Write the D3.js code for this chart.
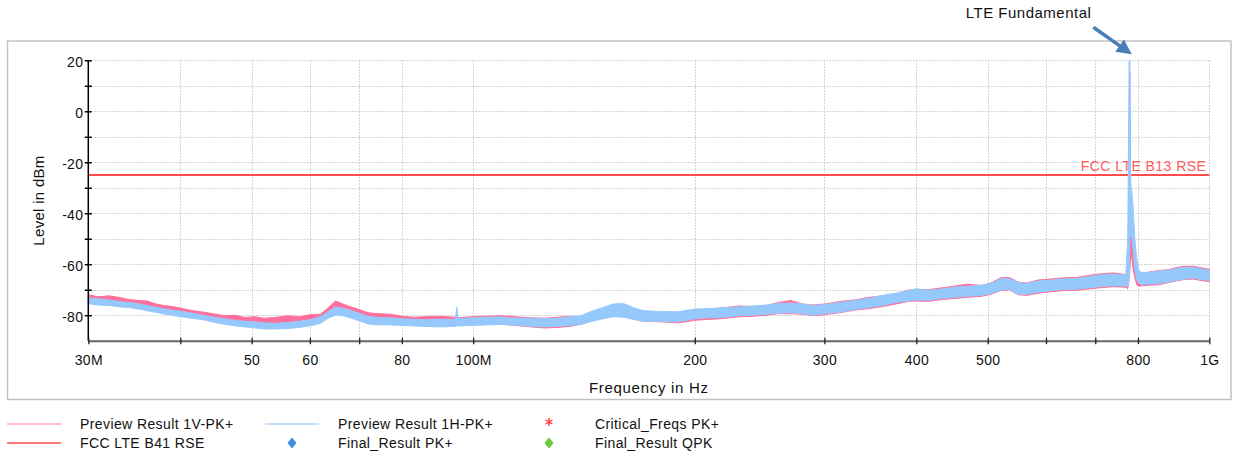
<!DOCTYPE html>
<html>
<head>
<meta charset="utf-8">
<script src="https://cdn.jsdelivr.net/npm/d3@7"></script>
<style>
  html, body { margin: 0; padding: 0; background: #fff; }
  svg { display: block; font-family: Arial, "Liberation Sans", sans-serif; }
</style>
</head>
<body>
<svg id="chart" width="1233" height="454"></svg>
<script>
// ---------------- data ----------------
const freqMHz = [
  30, 31, 32, 33, 34, 35, 36, 37, 38, 39,
  40, 41.5, 43, 44.5, 46, 47.5, 49, 50.5, 52, 54,
  56, 58, 60, 62, 63.5, 65, 66.5, 68, 70, 72,
  74, 77, 80, 83, 86, 90, 94.6, 95, 95.4, 100,
  104, 108, 112, 116, 120, 125, 130, 135, 140, 145,
  150, 155, 160, 165, 170, 180, 190, 200, 210, 220,
  230, 240, 250, 260, 270, 280, 290, 300, 315, 330,
  345, 360, 375, 390, 400, 415, 430, 450, 470, 490,
  505, 520, 535, 550, 565, 585, 600, 630, 660, 700,
  740, 770, 775, 778, 780, 782, 785, 788, 792, 797,
  802, 810, 830, 856, 880, 900, 925, 950, 975, 1000
];
// Preview Result 1V-PK+ (pink) lower / upper envelope, dBm
const pinkLo = [
  -74.5, -75.0, -75.5, -76.0, -76.0, -76.5, -77.5, -78.0, -78.6, -79.0,
  -79.6, -80.3, -81.0, -81.8, -82.4, -83.0, -83.4, -83.6, -83.8, -83.6,
  -83.8, -83.2, -82.8, -82.0, -80.2, -78.5, -78.8, -79.6, -80.6, -81.4,
  -81.8, -82.2, -83.0, -83.4, -84.0, -84.2, -84.0, -83.8, -83.8, -83.8,
  -83.6, -83.4, -83.8, -84.2, -84.6, -85.0, -84.8, -84.4, -83.6, -82.2,
  -81.0, -80.2, -80.2, -81.4, -82.4, -82.6, -83.0, -82.0, -81.6, -81.2,
  -80.6, -80.4, -80.0, -79.4, -79.4, -79.6, -80.2, -79.8, -79.0, -78.0,
  -77.4, -76.6, -75.6, -74.6, -74.4, -74.6, -74.0, -73.4, -73.0, -72.6,
  -71.8, -70.4, -70.0, -72.0, -72.2, -71.4, -71.0, -70.4, -70.2, -69.4,
  -68.8, -69.0, -69.6, -66.0, -62.0, -56.0, -58.0, -62.0, -65.0, -68.0,
  -68.6, -68.4, -68.2, -68.0, -67.2, -66.6, -66.0, -65.8, -66.4, -66.8
];
const pinkHi = [
  -72.0, -72.8, -72.4, -73.0, -73.8, -74.2, -74.4, -75.5, -76.2, -76.6,
  -77.2, -78.2, -78.8, -79.5, -80.2, -80.0, -80.9, -80.6, -81.2, -80.8,
  -80.2, -80.6, -79.8, -79.6, -77.2, -74.4, -75.6, -76.6, -77.8, -79.0,
  -79.4, -79.6, -80.4, -80.8, -80.6, -80.4, -80.8, -80.6, -81.0, -80.6,
  -80.4, -80.2, -80.4, -80.8, -81.0, -81.2, -80.8, -80.4, -80.6, -79.4,
  -78.6, -78.4, -78.6, -79.6, -79.6, -79.2, -79.0, -78.0, -77.6, -77.0,
  -76.4, -76.6, -76.2, -75.0, -74.2, -75.6, -76.0, -75.6, -74.6, -74.0,
  -73.0, -72.4, -71.6, -70.2, -70.0, -70.0, -69.4, -68.6, -67.8, -68.4,
  -67.4, -65.4, -65.2, -67.0, -67.4, -66.2, -66.0, -65.4, -65.2, -64.0,
  -63.4, -64.0, -63.0, -20.0, 15.0, -48.0, -50.0, -52.0, -57.0, -62.0,
  -65.0, -63.6, -63.0, -62.4, -62.2, -61.4, -60.8, -60.8, -61.4, -62.0
];
// Preview Result 1H-PK+ (light blue) lower / upper envelope, dBm
const blueLo = [
  -75.5, -76.0, -76.2, -76.7, -77.0, -77.5, -78.2, -78.8, -79.5, -80.0,
  -80.6, -81.2, -81.8, -82.8, -83.6, -84.2, -84.6, -85.0, -85.4, -85.4,
  -85.2, -84.8, -84.2, -83.2, -81.2, -80.0, -80.2, -81.0, -82.2, -83.4,
  -83.8, -83.8, -84.0, -84.2, -84.4, -84.6, -84.4, -84.2, -84.2, -84.0,
  -83.8, -83.6, -83.8, -84.0, -84.4, -84.6, -84.4, -84.0, -83.6, -82.4,
  -81.4, -80.6, -80.8, -81.6, -82.4, -82.4, -82.6, -81.4, -81.0, -80.8,
  -80.2, -80.0, -79.6, -79.2, -79.0, -79.4, -80.0, -79.4, -78.8, -77.8,
  -77.0, -76.2, -75.0, -74.4, -74.0, -74.2, -73.6, -73.0, -72.6, -72.2,
  -71.6, -70.2, -69.8, -71.8, -71.8, -71.0, -70.6, -70.0, -69.8, -69.0,
  -68.4, -68.6, -68.6, -66.0, -50.0, -48.0, -50.0, -55.0, -62.0, -66.0,
  -67.4, -68.0, -67.8, -67.6, -67.0, -66.4, -65.8, -65.4, -66.0, -66.4
];
const blueHi = [
  -73.2, -73.6, -74.0, -74.6, -75.0, -75.4, -76.2, -76.8, -77.5, -78.0,
  -78.4, -79.2, -80.0, -80.8, -81.4, -82.0, -82.4, -82.6, -83.0, -83.2,
  -82.8, -82.4, -81.8, -80.6, -78.6, -76.8, -77.2, -78.0, -79.2, -80.4,
  -80.8, -81.0, -81.4, -81.6, -81.8, -81.6, -81.6, -76.9, -81.4, -81.0,
  -80.8, -80.6, -81.0, -81.2, -81.2, -81.4, -81.2, -80.6, -80.2, -78.4,
  -77.0, -75.6, -75.4, -77.0, -78.2, -78.6, -78.6, -77.6, -77.4, -77.0,
  -76.8, -76.4, -76.0, -75.4, -75.2, -75.6, -76.2, -75.8, -75.0, -74.2,
  -73.4, -72.2, -71.4, -70.4, -69.6, -70.2, -69.8, -69.0, -68.6, -68.2,
  -67.6, -65.8, -65.6, -67.2, -67.6, -66.6, -66.4, -65.8, -65.6, -64.4,
  -63.8, -64.2, -50.0, 19.8, 20.0, -28.0, -32.0, -38.0, -50.0, -58.0,
  -62.6, -63.2, -63.2, -62.6, -62.4, -61.8, -61.2, -61.2, -61.8, -62.4
];
const limitLevel = -25;          // FCC LTE B13 RSE limit, dBm
const limitLabel = "FCC LTE B13 RSE";
const peakFreqMHz = 780;         // LTE fundamental
const peakLabel = "LTE Fundamental";

const yDomain = [-90, 20];
const yTickValues = [-80, -70, -60, -50, -40, -30, -20, -10, 0, 10, 20];
const yLabelValues = [-80, -60, -40, -20, 0, 20];
const xTickMHz = [30, 40, 50, 60, 70, 80, 100, 200, 300, 400, 500, 600, 700, 800, 1000];
const xTickLabels = {30: "30M", 50: "50", 60: "60", 80: "80", 100: "100M", 200: "200",
                     300: "300", 400: "400", 500: "500", 800: "800", 1000: "1G"};
const yTitle = "Level in dBm";
const xTitle = "Frequency in Hz";

const legendNames = ["Preview Result 1V-PK+", "Preview Result 1H-PK+", "Critical_Freqs PK+",
                     "FCC LTE B41 RSE", "Final_Result PK+", "Final_Result QPK"];
const legendKinds = ["line", "line", "asterisk", "line", "diamond", "diamond"];
const legendColors = ["#ffa3bd", "#a9d3fb", "#ff3b3b", "#ff4d4d", "#3e8fdc", "#6cc93a"];

// ---------------- drawing ----------------
const svg = d3.select("#chart");
const plot = {left: 88.3, right: 1209.3, top: 60.3, bottom: 340.7};

// outer frame
svg.append("rect").attr("x", 7.5).attr("y", 41).attr("width", 1223.5).attr("height", 358.5)
  .attr("fill", "none").attr("stroke", "#c3c3c3").attr("stroke-width", 1.5);

const x = d3.scaleLog().domain([30e6, 1e9]).range([plot.left, plot.right]);
const y = d3.scaleLinear().domain(yDomain).range([plot.bottom, plot.top]);

// grid
const grid = svg.append("g").attr("stroke", "#c8c8c8").attr("stroke-width", 1)
  .attr("stroke-dasharray", "1.5,1.5");
grid.selectAll("line.h").data(yTickValues).join("line").attr("class", "h")
  .attr("x1", plot.left).attr("x2", plot.right)
  .attr("y1", d => Math.round(y(d)) + 0.5).attr("y2", d => Math.round(y(d)) + 0.5);
grid.selectAll("line.v").data(xTickMHz.filter(d => d > 30)).join("line").attr("class", "v")
  .attr("x1", d => Math.round(x(d * 1e6)) + 0.5).attr("x2", d => Math.round(x(d * 1e6)) + 0.5)
  .attr("y1", plot.top).attr("y2", plot.bottom);

// limit line
svg.append("line").attr("x1", plot.left).attr("x2", plot.right)
  .attr("y1", y(limitLevel)).attr("y2", y(limitLevel))
  .attr("stroke", "#ff4d4d").attr("stroke-width", 2);
svg.append("text").attr("x", plot.right - 3).attr("y", y(limitLevel) - 4)
  .attr("text-anchor", "end").attr("font-size", 14).attr("fill", "#ff5a5a")
  .attr("letter-spacing", "0.45").text(limitLabel);

// traces as envelopes
const idx = d3.range(freqMHz.length);
function band(lo, hi) {
  return d3.area().x(i => x(freqMHz[i] * 1e6)).y0(i => y(lo[i])).y1(i => y(hi[i]))(idx);
}
svg.append("path").attr("d", band(pinkLo, pinkHi))
  .attr("fill", "#ff6f9c").attr("stroke", "#ff6f9c").attr("stroke-width", 1);
svg.append("path").attr("d", band(blueLo, blueHi))
  .attr("fill", "#96c9fb").attr("stroke", "#96c9fb").attr("stroke-width", 1);

// axes
const yAxis = d3.axisLeft(y).tickValues(yTickValues).tickSizeInner(3).tickSizeOuter(0).tickPadding(2)
  .tickFormat(d => yLabelValues.includes(d) ? d : "");
const gy = svg.append("g").attr("transform", `translate(${plot.left},0)`).call(yAxis);
gy.select(".domain").attr("stroke", "#000").attr("stroke-width", 1.5)
  .attr("d", `M0,${plot.top}V${plot.bottom}`);
gy.selectAll(".tick line").attr("x1", -3.5).attr("x2", 3.5).attr("stroke-width", 1.5);
gy.selectAll(".tick text").attr("font-size", 14).attr("fill", "#111").attr("dy", "0.45em")
  .attr("letter-spacing", "0.3")
  .attr("font-family", "Arial, 'Liberation Sans', sans-serif");

const xAxis = d3.axisBottom(x).tickValues(xTickMHz.map(d => d * 1e6)).tickSizeInner(3.5)
  .tickSizeOuter(0).tickPadding(10.8)
  .tickFormat(d => xTickLabels[Math.round(d / 1e6)] || "");
const gx = svg.append("g").attr("transform", `translate(0,${plot.bottom})`).call(xAxis);
gx.select(".domain").attr("stroke", "#666").attr("stroke-width", 2);
gx.selectAll(".tick line").attr("y1", -3).attr("y2", 3.5).attr("stroke", "#222").attr("stroke-width", 1.3);
gx.selectAll(".tick text").attr("font-size", 14).attr("fill", "#111").attr("letter-spacing", "0.3")
  .attr("font-family", "Arial, 'Liberation Sans', sans-serif");

// axis titles
svg.append("text").attr("transform", `translate(44,${(plot.top + plot.bottom) / 2}) rotate(-90)`)
  .attr("text-anchor", "middle").attr("font-size", 15).attr("letter-spacing", "0.3")
  .attr("fill", "#111").text(yTitle);
svg.append("text").attr("x", (plot.left + plot.right) / 2).attr("y", 393)
  .attr("text-anchor", "middle").attr("font-size", 15).attr("letter-spacing", "0.7")
  .attr("fill", "#111").text(xTitle);

// annotation arrow
const tipX = x(peakFreqMHz * 1e6) + 2, tipY = y(20) - 6;
const sx = tipX - 38.5, sy = tipY - 27;
const ux = 38.5 / 47, uy = 27 / 47;
const hl = 15, hw = 7.5;
const bx = tipX - hl * ux, by = tipY - hl * uy;
svg.append("line").attr("x1", sx).attr("y1", sy).attr("x2", bx + 2 * ux).attr("y2", by + 2 * uy)
  .attr("stroke", "#4a7ebb").attr("stroke-width", 3.5);
svg.append("path")
  .attr("d", `M${tipX},${tipY}L${bx - hw * uy},${by + hw * ux}L${bx + hw * uy},${by - hw * ux}Z`)
  .attr("fill", "#4a7ebb");
svg.append("text").attr("x", sx - 2).attr("y", sy - 9).attr("text-anchor", "end")
  .attr("font-size", 15).attr("letter-spacing", "0.5").attr("fill", "#111").text(peakLabel);

// legend
const colX = [7, 265, 522];
const rowY = [424, 443];
const lg = svg.append("g");
legendNames.forEach((name, i) => {
  const col = i % 3, row = Math.floor(i / 3);
  const x0 = colX[col], yy = rowY[row];
  const g = lg.append("g");
  if (legendKinds[i] === "line") {
    g.append("line").attr("x1", x0).attr("x2", x0 + 54).attr("y1", yy).attr("y2", yy)
      .attr("stroke", legendColors[i]).attr("stroke-width", 1.6);
  } else if (legendKinds[i] === "diamond") {
    g.append("path").attr("d", "M0,-5.5L4.5,0L0,5.5L-4.5,0Z")
      .attr("transform", `translate(${x0 + 27},${yy})`).attr("fill", legendColors[i]);
  } else {
    g.append("path").attr("d", d3.symbol(d3.symbolAsterisk, 45)())
      .attr("transform", `translate(${x0 + 27},${yy - 2})`)
      .attr("stroke", legendColors[i]).attr("stroke-width", 1.4).attr("fill", "none");
  }
  g.append("text").attr("x", x0 + 73).attr("y", yy + 5).attr("font-size", 14)
    .attr("letter-spacing", "0.4").attr("fill", "#111").text(name);
});
</script>
</body>
</html>
